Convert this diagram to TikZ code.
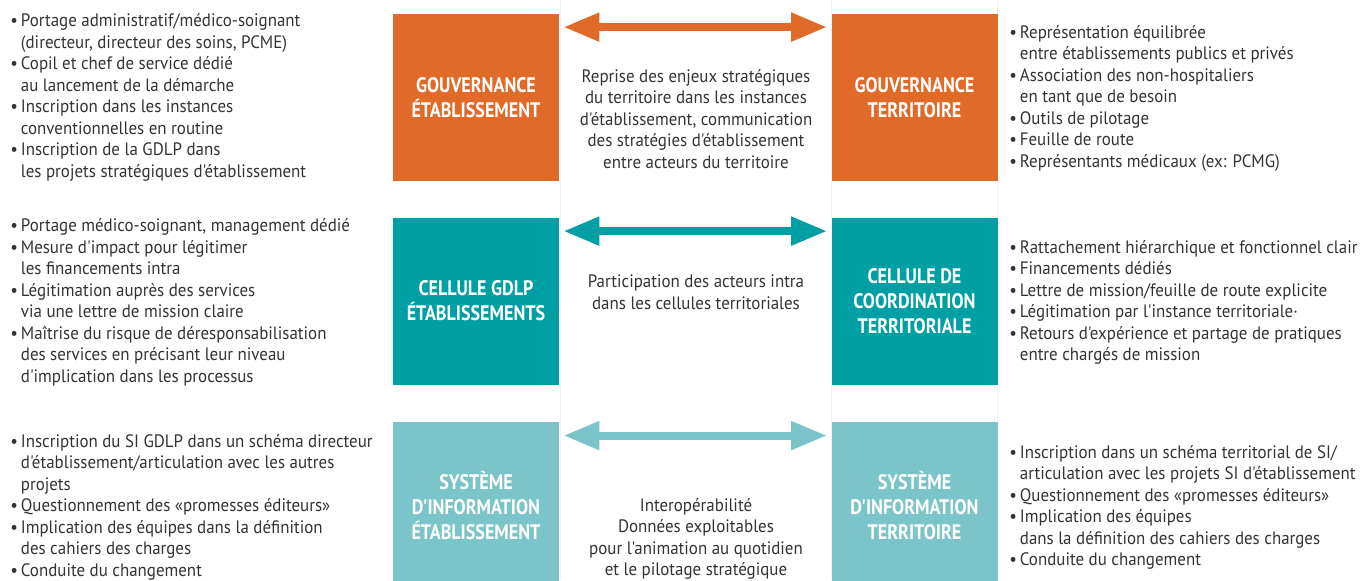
\documentclass[tikz,border=0pt]{standalone}
\usepackage{fontspec}
\setmainfont[FakeStretch=0.94,Ligatures=TeXOff]{PT Sans}
\newfontfamily\titrepilier[FakeStretch=0.86,Ligatures=TeXOff]{PT Sans}
\usetikzlibrary{arrows.meta}

\definecolor{orangegouv}{HTML}{E06B28}
\definecolor{bleucellule}{HTML}{009FA4}
\definecolor{bleusi}{HTML}{7BC4CA}
\definecolor{gristexte}{HTML}{333333}

\newcommand{\puce}{\makebox[5.25pt][l]{\textbullet}}
\newcommand{\suite}{\hspace*{5.25pt}}

\begin{document}
\begin{tikzpicture}[x=0.5pt,y=-0.5pt,
    pilier/.style={minimum width=83pt, minimum height=83.5pt, inner sep=0pt,
      text=white, align=center, font=\titrepilier\fontsize{10.5}{12.5}\selectfont\bfseries},
    liste/.style={anchor=west, align=left, inner sep=0pt, text=gristexte,
      font=\fontsize{9}{10.75}\selectfont},
    lien/.style={align=center, inner sep=0pt, text=gristexte,
      font=\fontsize{9}{10.75}\selectfont},
    fleche/.style={line width=4pt, shorten <=2pt, shorten >=2pt,
      {Triangle[length=18pt,width=13.5pt]}-{Triangle[length=18pt,width=13.5pt]}}]
    \useasboundingbox (0,0) rectangle (1366,580);

    % lignes de colonnes
    \draw[black!6] (560,0) -- (560,580);
    \draw[black!6] (831,0) -- (831,580);
    \draw[black!6] (997,0) -- (997,580);

    % piliers
    \node[pilier, fill=orangegouv] (gouvEtab) at (476,97.5) {GOUVERNANCE\\ÉTABLISSEMENT};
    \node[pilier, fill=orangegouv] (gouvTerr) at (914.5,97.5) {GOUVERNANCE\\TERRITOIRE};
    \node[pilier, fill=bleucellule] (celEtab) at (476,301) {CELLULE GDLP\\ÉTABLISSEMENTS};
    \node[pilier, fill=bleucellule] (celTerr) at (914.5,301) {CELLULE DE\\COORDINATION\\TERRITORIALE};
    \node[pilier, fill=bleusi] (siEtab) at (476,505.5) {SYSTÈME\\D'INFORMATION\\ÉTABLISSEMENT};
    \node[pilier, fill=bleusi] (siTerr) at (914.5,505.5) {SYSTÈME\\D'INFORMATION\\TERRITOIRE};

    % fleches entre piliers
    \draw[fleche, orangegouv] ([yshift=-6.75pt]gouvEtab.north east) -- ([yshift=-6.75pt]gouvTerr.north west);
    \draw[fleche, bleucellule] ([yshift=-7pt]celEtab.north east) -- ([yshift=-7pt]celTerr.north west);
    \draw[fleche, bleusi] ([yshift=-7pt]siEtab.north east) -- ([yshift=-7pt]siTerr.north west);

    % textes du milieu
    \node[lien] (lienGouv) at (696,119) {Reprise des enjeux stratégiques\\du territoire dans les instances\\d'établissement, communication\\des stratégies d'établissement\\entre acteurs du territoire};
    \node[lien] (lienCel) at (696,292) {Participation des acteurs intra\\dans les cellules territoriales};
    \node[lien] (lienSi) at (696,539) {Interopérabilité\\Données exploitables\\pour l'animation au quotidien\\et le pilotage stratégique};

    % listes cote etablissement
    \node[liste] (listeGouvEtab) at (10,97.5) {\puce Portage administratif/médico-soignant\\
      \suite(directeur, directeur des soins, PCME)\\
      \puce Copil et chef de service dédié\\
      \suite au lancement de la démarche\\
      \puce Inscription dans les instances\\
      \suite conventionnelles en routine\\
      \puce Inscription de la GDLP dans\\
      \suite les projets stratégiques d'établissement};
    \node[liste] (listeCelEtab) at (10,302.5) {\puce Portage médico-soignant, management dédié\\
      \puce Mesure d'impact pour légitimer\\
      \suite les financements intra\\
      \puce Légitimation auprès des services\\
      \suite via une lettre de mission claire\\
      \puce Maîtrise du risque de déresponsabilisation\\
      \suite des services en précisant leur niveau\\
      \suite d'implication dans les processus};
    \node[liste] (listeSiEtab) at (10,507) {\puce Inscription du SI GDLP dans un schéma directeur\\
      \suite d'établissement/articulation avec les autres\\
      \suite projets\\
      \puce Questionnement des «promesses éditeurs»\\
      \puce Implication des équipes dans la définition\\
      \suite des cahiers des charges\\
      \puce Conduite du changement};

    % listes cote territoire
    \node[liste] (listeGouvTerr) at (1009,98) {\puce Représentation équilibrée\\
      \suite entre établissements publics et privés\\
      \puce Association des non-hospitaliers\\
      \suite en tant que de besoin\\
      \puce Outils de pilotage\\
      \puce Feuille de route\\
      \puce Représentants médicaux (ex: PCMG)};
    \node[liste] (listeCelTerr) at (1009,302.5) {\puce Rattachement hiérarchique et fonctionnel clair\\
      \puce Financements dédiés\\
      \puce Lettre de mission/feuille de route explicite\\
      \puce Légitimation par l'instance territoriale·\\
      \puce Retours d'expérience et partage de pratiques\\
      \suite entre chargés de mission};
    \node[liste] (listeSiTerr) at (1009,507.5) {\puce Inscription dans un schéma territorial de SI/\\
      \suite articulation avec les projets SI d'établissement\\
      \puce Questionnement des «promesses éditeurs»\\
      \puce Implication des équipes\\
      \suite dans la définition des cahiers des charges\\
      \puce Conduite du changement};
\end{tikzpicture}
\end{document}
